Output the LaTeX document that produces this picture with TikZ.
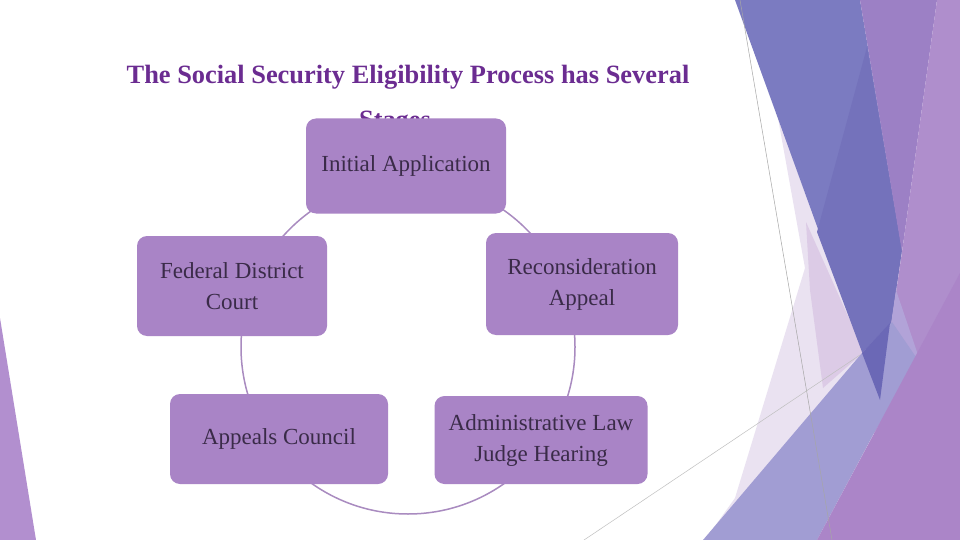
\documentclass[tikz,border=0pt]{standalone}
\usepackage{fontspec}
\setmainfont{Liberation Serif}
\usepackage{tikz}
\usepackage{xcolor}

\definecolor{boxfill}{HTML}{A984C6}
\definecolor{boxtext}{HTML}{3A2B48}
\definecolor{titlecol}{HTML}{6B2C91}
\definecolor{ringcol}{HTML}{A98BC0}
\definecolor{paleLav}{HTML}{EAE2F1}
\definecolor{midLav}{HTML}{DCCBE6}
\definecolor{bandBlue}{HTML}{7B7BC1}
\definecolor{deepBlue}{HTML}{7472BB}
\definecolor{tipBlue}{HTML}{6B68B6}
\definecolor{bandPurple}{HTML}{9C80C5}
\definecolor{lightPurple}{HTML}{AF8ECC}
\definecolor{periLight}{HTML}{B2A3D8}
\definecolor{periwinkle}{HTML}{A19DD3}
\definecolor{cornerPurple}{HTML}{AB85C8}
\definecolor{leftPurple}{HTML}{B28FCF}

\begin{document}
\begin{tikzpicture}[x=1pt,y=-1pt,
  stagebox/.style={draw=none,fill=boxfill,rounded corners=10pt,align=center,
    text=boxtext,font=\fontsize{23}{31}\selectfont},
  titletext/.style={text=titlecol,font=\fontsize{26.4}{30}\selectfont\bfseries,anchor=base}]
\useasboundingbox (0,0) rectangle (960,540);
\fill[white] (0,0) rectangle (960,540);
\fill[paleLav] (778,118) -- (805,268) -- (735,498) -- (705,540) -- (880,540) -- (880,400) -- cycle;
\fill[midLav] (806,222) -- (864,352) -- (823,388) -- (810,290) -- cycle;
\fill[bandBlue] (735,0) -- (860,0) -- (902,250) -- (880,400) -- cycle;
\fill[deepBlue] (867,47) -- (902,250) -- (880,400) -- (817,232) -- cycle;
\fill[bandPurple] (860,0) -- (937,0) -- (902,252) -- cycle;
\fill[lightPurple] (937,0) -- (960,0) -- (960,277) -- (874,433) -- (880,400) -- (902,252) -- cycle;
\fill[periLight] (896,290) -- (918,355) -- (874,433) -- (880,400) -- cycle;
\fill[periwinkle] (703,540) -- (862,353) -- (892,322) -- (918,360) -- (874,433) -- (817,540) -- cycle;
\fill[tipBlue] (862,353) -- (890,323) -- (880,400) -- cycle;
\fill[cornerPurple] (960,273) -- (960,540) -- (817,540) -- cycle;
\fill[leftPurple] (0,318) -- (36,540) -- (0,540) -- cycle;
\draw[gray!70,line width=0.5pt] (740,0) -- (832,540);
\draw[gray!50,line width=0.5pt] (584,540) -- (860,355);

\node[titletext] (ttl) at (408,84) {The Social Security Eligibility Process has Several};
\node[titletext] (stg) at (395,129) {Stages};

\coordinate (ctr) at (408,347);
\draw[ringcol,line width=1.5pt] (ctr) circle (167);

\node[stagebox,minimum width=200,minimum height=95] (init) at (406,166) {Initial Application};
\node[stagebox,minimum width=192,minimum height=102] (recon) at (582,284) {Reconsideration\\Appeal};
\node[stagebox,minimum width=213,minimum height=88] (alj) at (541,440) {Administrative Law\\Judge Hearing};
\node[stagebox,minimum width=218,minimum height=90] (council) at (279,439) {Appeals Council};
\node[stagebox,minimum width=190,minimum height=100] (fed) at (232,286) {Federal District\\Court};
\end{tikzpicture}
\end{document}
